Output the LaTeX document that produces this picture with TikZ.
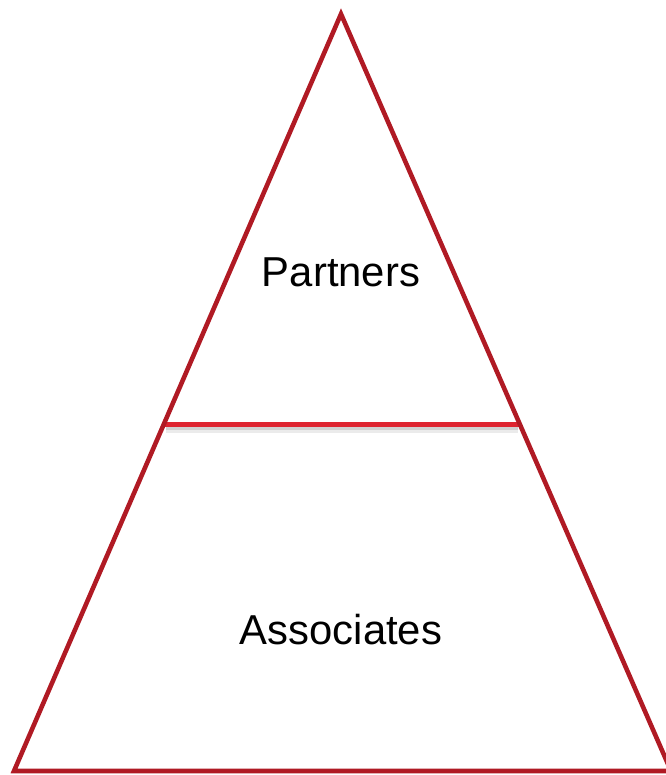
\documentclass[tikz,border=0pt]{standalone}
\usepackage{fontspec}
\setmainfont{Liberation Sans}
\usetikzlibrary{calc}
\definecolor{pyramidred}{RGB}{176,26,36}
\definecolor{splitred}{RGB}{222,36,48}

\begin{document}
\begin{tikzpicture}[x=0.02cm,y=-0.02cm,
    tier/.style={font=\fontsize{23.8}{28}\selectfont,inner sep=0pt}]
  \useasboundingbox (0,0) rectangle (666,775);

  \coordinate (top) at (341,14);
  \coordinate (left) at (14,771);
  \coordinate (right) at (671,771);
  \coordinate (splitl) at ($(top)!0.542!(left)$);
  \coordinate (splitr) at ($(top)!0.542!(right)$);

  % soft shadow under the split
  \draw[black!8,line width=2.6pt] ($(splitl)+(2,6)$) -- ($(splitr)+(-2,6)$);
  \draw[black!18,line width=2pt] ($(splitl)+(2,3.5)$) -- ($(splitr)+(-2,3.5)$);
  \draw[splitred,line width=2.5pt] (splitl) -- (splitr);

  \draw[pyramidred,line width=2.6pt,line join=miter] (top) -- (right) -- (left) -- cycle;

  \node[tier] (partners) at (341,272) {Partners};
  \node[tier] (associates) at (341,630) {Associates};
\end{tikzpicture}
\end{document}
